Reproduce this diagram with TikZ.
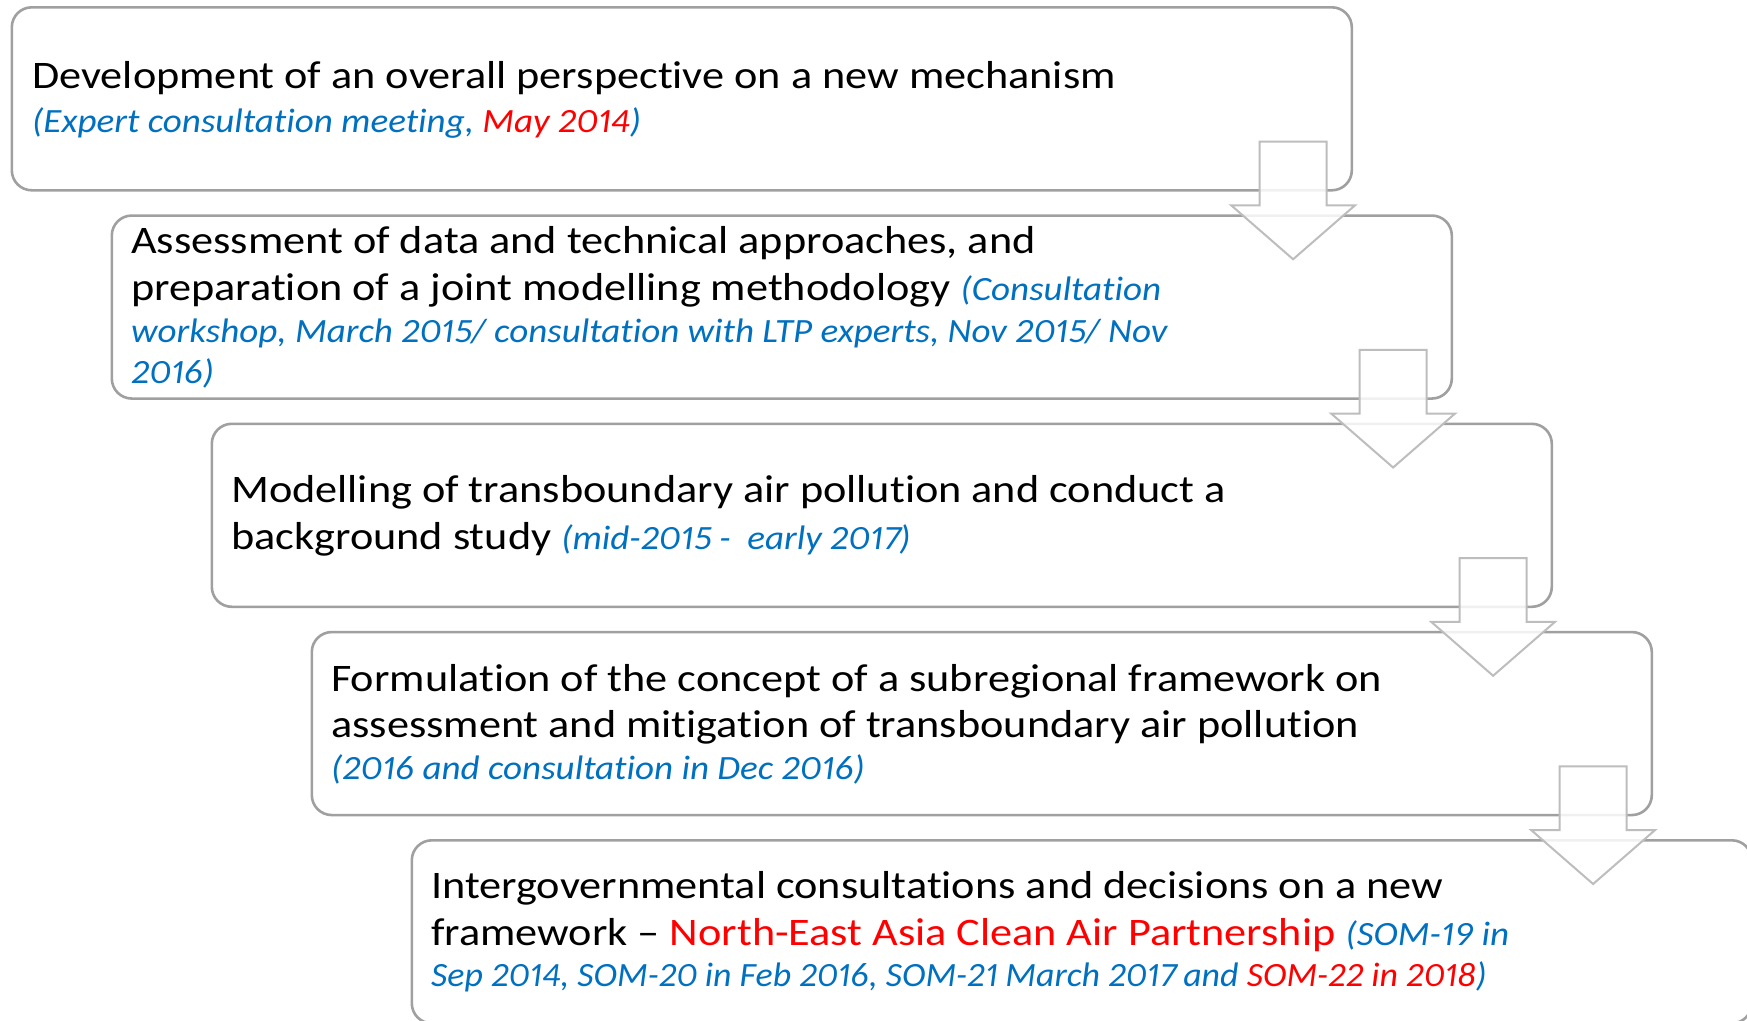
\documentclass[tikz,border=0pt]{standalone}
\usepackage{fontspec}
\setmainfont{Carlito}[FakeStretch=1.135, Ligatures=NoCommon, Numbers=Proportional]
\newfontfamily\itf{Carlito Italic}[FakeStretch=1.09, Ligatures=NoCommon, Numbers=Proportional]
\newfontfamily\itfn{Carlito Italic}[FakeStretch=1.055, Ligatures=NoCommon, Numbers=Proportional]
\definecolor{cblue}{HTML}{0070C0}
\definecolor{cred}{HTML}{FF0000}
\definecolor{cframe}{HTML}{A0A0A0}
\definecolor{carrow}{HTML}{BDBDBD}
\newcommand{\ib}[1]{{\itf\fontsize{34}{41}\selectfont\color{cblue}#1}}
\newcommand{\ir}[1]{{\itf\fontsize{34}{41}\selectfont\color{cred}#1}}
\newcommand{\ibn}[1]{{\itfn\fontsize{34}{41}\selectfont\color{cblue}#1}}
\newcommand{\irn}[1]{{\itfn\fontsize{34}{41}\selectfont\color{cred}#1}}
\begin{document}
\begin{tikzpicture}[x=1pt,y=-1pt,
  stagebox/.style={draw=cframe, line width=2.6pt, rounded corners=20pt, fill=white,
    rectangle, minimum width=1340pt, minimum height=183pt, anchor=north west, inner sep=0pt},
  stagetext/.style={anchor=base west, inner sep=0pt, align=left,
    font=\fontsize{39}{47}\selectfont},
  downarrow/.style={draw=carrow, line width=2pt, fill=white, fill opacity=0.85,
    line join=miter}]
\useasboundingbox (0,0) rectangle (1747,1020);
\clip (0,0) rectangle (1747,1020);
% boxes
\foreach \i in {0,...,4} {
  \node[stagebox] (b\i) at ({10.5+100*\i},{6+208.25*\i}) {};
}
% texts (anchored at the baseline of their last line)
\node[stagetext] (t0) at (32,132) {Development of an overall perspective on a new mechanism\\[-3pt]
  \ib{(Expert consultation meeting, }\ir{May 2014}\ib{)}};
\node[stagetext] (t1) at (131,383) {Assessment of data and technical approaches, and\\
  preparation of a joint modelling methodology \ib{(Consultation}\\[-5pt]
  \ib{workshop, March 2015/ consultation with LTP experts, Nov 2015/ Nov}\\[-6pt]
  \ib{2016)}};
\node[stagetext] (t2) at (231,549) {Modelling of transboundary air pollution and conduct a\\
  background study \ib{(mid-2015 - \ early 2017)}};
\node[stagetext] (t3) at (331,779) {Formulation of the concept of a subregional framework on\\[-1pt]
  assessment and mitigation of transboundary air pollution\\[-5pt]
  \ib{(2016 and consultation in Dec 2016)}};
\node[stagetext] (t4) at (431,986) {Intergovernmental consultations and decisions on a new\\
  framework – {\color{cred}North-East Asia Clean Air Partnership} \ib{(SOM-19 in}\\[-6pt]
  \ibn{Sep 2014, SOM-20 in Feb 2016, SOM-21 March 2017 and }\irn{SOM-22 in 2018}\ibn{)}};
% arrows between consecutive boxes
\foreach \i/\j in {0/1,1/2,2/3,3/4} {
  \coordinate (a\i) at ([xshift=-60pt,yshift=50pt]b\i.south east);
  \draw[downarrow] ([xshift=-33.5pt]a\i) -- ([xshift=33.5pt]a\i)
    -- ([xshift=33.5pt,yshift=9pt]b\j.north -| a\i)
    -- ([xshift=62pt,yshift=9pt]b\j.north -| a\i)
    -- ([yshift=-45pt]b\j.north -| a\i)
    -- ([xshift=-62pt,yshift=9pt]b\j.north -| a\i)
    -- ([xshift=-33.5pt,yshift=9pt]b\j.north -| a\i)
    -- cycle;
}
\end{tikzpicture}
\end{document}
